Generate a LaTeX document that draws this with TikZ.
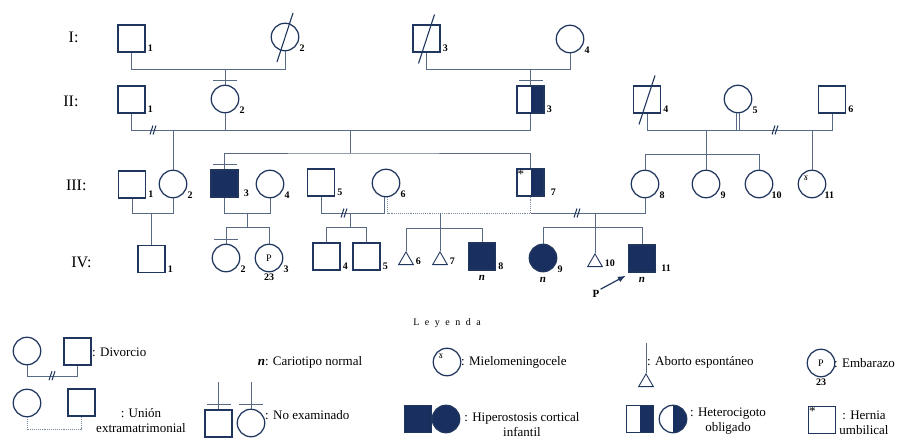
\documentclass[tikz,border=0pt]{standalone}
\usepackage{fontspec}
\setmainfont{Liberation Serif}
\newfontfamily\ipafont{DejaVu Serif}
\usepackage{tikz}
\usetikzlibrary{calc,arrows.meta,shapes.geometric}

\definecolor{shpcol}{RGB}{32,54,94}
\definecolor{lincol}{RGB}{88,106,132}
\definecolor{fillcol}{RGB}{25,47,95}

\tikzset{
  ind/.style = {draw=shpcol, line width=1.25pt, inner sep=0pt},
  male/.style = {ind, rectangle, minimum size=27pt},
  female/.style = {ind, circle, minimum size=27.5pt},
  aff/.style = {fill=fillcol},
  het/.style = {path picture={\fill[fillcol] (path picture bounding box.north) rectangle (path picture bounding box.south east);}},
  abort/.style = {ind, line width=0.9pt, regular polygon, regular polygon sides=3, minimum size=17pt, anchor=corner 1},
  ln/.style = {lincol, line width=0.9pt},
  dotln/.style = {lincol!80, line width=0.9pt, densely dotted},
  num/.style = {font=\fontsize{10}{12}\selectfont\bfseries, inner sep=0.5pt},
  sqnum/.style = {num, anchor=south west, xshift=1.5pt},
  cnum/.style = {num, anchor=west, xshift=3pt, yshift=-2pt},
  nlab/.style = {font=\fontsize{11}{12}\selectfont\bfseries\itshape, inner sep=0.5pt, yshift=-4pt},
  ast/.style = {font=\fontsize{13}{14}\selectfont, inner sep=1pt, anchor=north west},
  mmc/.style = {font=\ipafont\fontsize{9}{10}\selectfont, inner sep=0pt, anchor=center, xshift=-6pt, yshift=-9pt},
  gen/.style = {font=\fontsize{16}{18}\selectfont, anchor=east},
  legtext/.style = {font=\fontsize{13}{15}\selectfont, inner sep=0pt, align=center},
  prb/.style = {shpcol, line width=1.2pt, -{Latex[length=8pt, width=6pt]}},
}

\begin{document}
\begin{tikzpicture}[x=1pt, y=-1pt]
\useasboundingbox (0,0) rectangle (898,439);

%generation labels
\node[gen] (gI) at (82,37) {I:};
\node[gen] (gII) at (82,101) {II:};
\node[gen] (gIII) at (90,185) {III:};
\node[gen] (gIV) at (95,262) {IV:};

%generation I
\node[male, label={[sqnum]-45:1}] (I1) at (131.5,38.5) {};
\node[female, label={[cnum]-40:2}] (I2) at (285,37) {};
\node[male, label={[sqnum]-45:3}] (I3) at (426.5,38.5) {};
\node[female, label={[cnum]-40:4}] (I4) at (570,39) {};

%generation II
\node[male, label={[sqnum]-45:1}] (II1) at (131.5,99.5) {};
\node[female, label={[cnum]-40:2}] (II2) at (225,99) {};
\node[male, het, label={[sqnum]-45:3}] (II3) at (530.5,99.5) {};
\node[male, label={[sqnum]-45:4}] (II4) at (647,99.5) {};
\node[female, label={[cnum]-40:5}] (II5) at (738,99) {};
\node[male, label={[sqnum]-45:6}] (II6) at (832,99.5) {};

%generation III
\node[male, label={[sqnum]-45:1}] (III1) at (132,184.5) {};
\node[female, label={[cnum]-40:2}] (III2) at (173,184) {};
\node[male, aff, label={[sqnum, xshift=3pt]-45:3}] (III3) at (224.5,183.5) {};
\node[female, label={[cnum]-40:4}] (III4) at (270,184) {};
\node[male, label={[sqnum]-45:5}] (III5) at (321,182.5) {};
\node[female, label={[cnum]-40:6}] (III6) at (386,183) {};
\node[male, het, label={[sqnum, xshift=4pt]-45:7}, label={[ast]135:*}] (III7) at (530.5,182.5) {};
\node[female, label={[cnum]-40:8}] (III8) at (645,184) {};
\node[female, label={[cnum]-40:9}] (III9) at (706,184) {};
\node[female, label={[cnum, xshift=-2pt]-40:10}] (III10) at (759,184) {};
\node[female, label={[cnum, xshift=-2pt]-40:11}, label={[mmc]90:ɤ}] (III11) at (812,184) {};

%generation IV
\node[male, label={[sqnum]-45:1}] (IV1) at (151.5,259) {};
\node[female, label={[cnum]-40:2}] (IV2) at (226,258) {};
\node[female, label={[cnum]-40:3}, label={[num, yshift=-1pt]below:23}] (IV3) at (269,258) {\fontsize{10}{12}\selectfont P};
\node[male, label={[sqnum]-45:4}] (IV4) at (326.5,256.5) {};
\node[male, label={[sqnum]-45:5}] (IV5) at (366.5,256.5) {};
\node[abort] (IV6) at (406,251) {};
\node[abort] (IV7) at (440,251) {};
\node[male, aff, label={[sqnum]-45:8}, label={[nlab]below:n}] (IV8) at (482,256.5) {};
\node[female, aff, label={[cnum]-40:9}, label={[nlab]below:n}] (IV9) at (543,258) {};
\node[abort] (IV10) at (595,253) {};
\node[male, aff, label={[sqnum, xshift=3pt]-45:11}, label={[nlab]below:n}] (IV11) at (642,258.5) {};

%numbers of the abortions
\node[num, anchor=south west] (t6) at ([xshift=1pt]IV6.corner 3) {6};
\node[num, anchor=south west] (t7) at ([xshift=1pt]IV7.corner 3) {7};
\node[num, anchor=south west] (t10) at ([xshift=1pt]IV10.corner 3) {10};

%proband
\node[font=\fontsize{11}{12}\selectfont\bfseries, inner sep=1pt] (pb) at (596,294) {P};
\draw[prb] (pb.north east) -- ([shift={(-2pt,-3pt)}]IV11.south west);

%generation I -> II
\draw[ln] (I1.south) -- ++(0,17) coordinate (c1) -| (I2.south);
\draw[ln] (II2.north) -- (II2.north |- c1);
\draw[ln] (I3.south) -- ++(0,17) coordinate (c2) -| (I4.south);
\draw[ln] (II3.north) -- (II3.north |- c2);

%generation II -> III
\draw[ln] (II1.south) -- ++(0,17) coordinate (c3) -| (II3.south);
\draw[ln] (II2.south) -- (II2.south |- c3);
\draw[ln] (III2.north) -- (III2.north |- c3);
\coordinate (s3) at (350,153);
\draw[ln] (s3 |- c3) -- (s3);
\draw[ln] (III3.north) |- (s3) -| (III7.north);

\draw[ln] (II4.south) -- ++(0,17) coordinate (c4) -| (II6.south);
\draw[ln] ([xshift=-1.5pt]II5.south) -- ([xshift=-1.5pt]II5.south |- c4);
\draw[ln] ([xshift=1.5pt]II5.south) -- ([xshift=1.5pt]II5.south |- c4);
\draw[ln] (III9.north) -- (III9.north |- c4);
\draw[ln] (III8.north) -- ++(0,-15) -| (III10.north);
\draw[ln] (III11.north) -- (III11.north |- c4);

%generation III -> IV
\draw[ln] (III1.south) -- ++(0,15) coordinate (c5) -| (III2.south);
\draw[ln] (IV1.north) -- (IV1.north |- c5);

\draw[ln] (III3.south) -- ++(0,16) coordinate (c6) -| (III4.south);
\draw[ln] (IV2.north) -- ++(0,-16) coordinate (s6) -| (IV3.north);
\coordinate (m6) at ($(III3.south |- c6)!.5!(III4.south |- c6)$);
\draw[ln] (m6) -- (m6 |- s6);

\draw[ln] (III5.south) -- ++(0,17) coordinate (c7) -| ([xshift=-1.5pt]III6.south);
\draw[ln] (IV4.north) -- ++(0,-15) coordinate (s7) -| (IV5.north);
\coordinate (m7) at (350,228);
\draw[ln] (m7 |- c7) -- (m7);

\draw[dotln] ([xshift=1.5pt]III6.south) -- ++(0,16) coordinate (c8) -| (III7.south);
\draw[ln] (IV6.corner 1) -- ++(0,-23) coordinate (s8) -| (IV8.north);
\draw[ln] (IV7.corner 1) -- (IV7.corner 1 |- c8);

\draw[ln] (III7.south |- c8) -| (III8.south);
\draw[ln] (IV9.north) -- ++(0,-16) -| (IV11.north);
\draw[ln] (IV10.corner 1) -- (IV10.corner 1 |- c8);

%deceased
\foreach \n in {I2,I3,II4}
  \draw[shpcol, line width=1.1pt] ($(\n)+(-8,25)$) -- ($(\n)+(8,-24)$);

%legend
\node[font=\fontsize{10}{12}\selectfont] (ley) at (447,323) {\spaceskip=5.5pt L e y e n d a};

\node[female] (ldf) at (27,351) {};
\node[male] (ldm) at (77.5,351.5) {};
\draw[ln] (ldf.south) -- ++(0,11) -| (ldm.south);
\node[legtext, anchor=west] (ldtx) at (92,352) {: Divorcio};

\node[female] (lef) at (27,403) {};
\node[male] (lem) at (81.5,402.5) {};
\draw[dotln] (lef.south) -- ++(0,12) -| (lem.south);
\node[legtext] (letx) at (141,421) {: Unión\\extramatrimonial};

\node[legtext] (lkt) at (310,362) {\textbf{\textit{n}}: Cariotipo normal};

\node[male] (lnm) at (218.5,423.5) {};
\node[female] (lnf) at (251,423) {};
\foreach \n in {lnm,lnf}
  \draw[ln] (\n.north) -- ++(0,-27);
\node[legtext, anchor=west] (lnetx) at (265,415) {: No examinado};

\node[female, label={[mmc]90:ɤ}] (lmm) at (447,362) {};
\node[legtext, anchor=west] (lmmtx) at (461,362) {: Mielomeningocele};

\node[male, aff] (lhs) at (418,419) {};
\node[female, aff] (lhc) at (446,419) {};
\node[legtext] (lhtx) at (522,425) {: Hiperostosis cortical\\infantil};

\node[abort] (lab) at (646,373) {};
\draw[ln] (lab.corner 1) -- ++(0,-30);
\node[legtext, anchor=west] (labtx) at (647,362) {: Aborto espontáneo};

\node[male, het] (lhts) at (640,419) {};
\node[female, het] (lhtc) at (673,419) {};
\node[legtext] (lhttx) at (728,421) {: Heterocigoto\\obligado};

\node[female, label={[num, yshift=-1pt]below:23}] (lemb) at (821,363) {\fontsize{10}{12}\selectfont P};
\node[legtext, anchor=west] (lembtx) at (834,363) {: Embarazo};

\node[male, label={[ast]135:*}] (lher) at (822,420) {};
\node[legtext] (lhertx) at (864,423) {: Hernia\\umbilical};

%not examined
\foreach \n in {II2,II3,III3,IV2,lnm,lnf}
  \draw[ln] ([shift={(-12pt,4.5pt)}]\n.north) -- ([shift={(12pt,4.5pt)}]\n.north);

%divorce marks
\coordinate (dv1) at (153,130);
\coordinate (dv2) at (775,130);
\coordinate (dv3) at (344,213);
\coordinate (dv4) at (577,213);
\coordinate (dv5) at (52,375.75);
\foreach \i in {1,...,5}
  \draw[shpcol, line width=1pt] ([shift={(-3pt,-4.5pt)}]dv\i) -- ++(3pt,9pt)
                                ([shift={(0pt,-4.5pt)}]dv\i) -- ++(3pt,9pt);

\end{tikzpicture}
\end{document}
